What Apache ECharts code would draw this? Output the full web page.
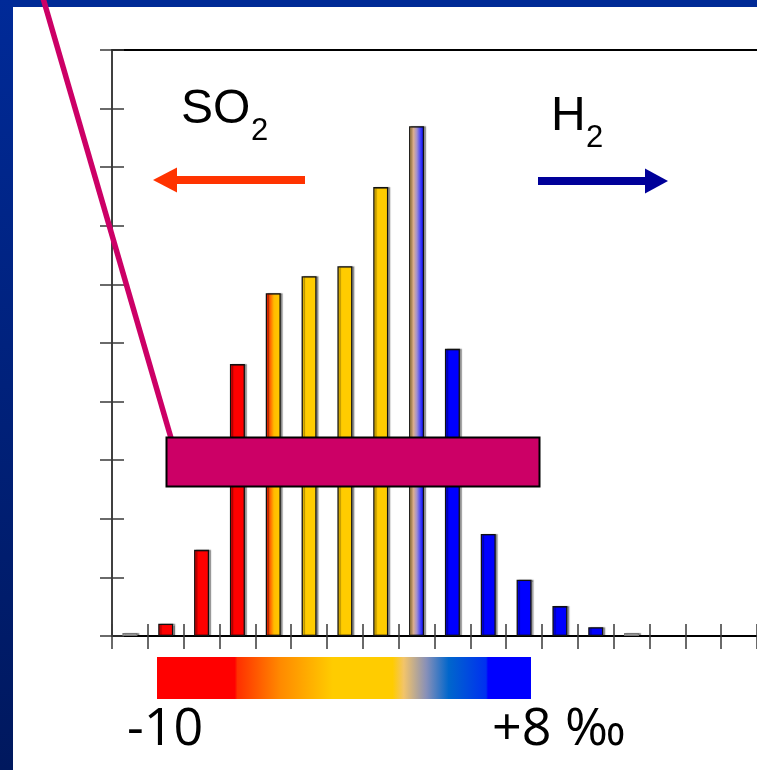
<!DOCTYPE html>
<html>
<head>
<meta charset="utf-8">
<script src="https://cdn.jsdelivr.net/npm/echarts@6/dist/echarts.min.js"></script>
<style>
  html, body { margin: 0; padding: 0; background: #fff; }
  #chart { width: 757px; height: 770px; }
</style>
</head>
<body>
<div id="chart"></div>
<script>
// Isotope histogram: 1 ‰ bins from -10 to +8 ‰
const bins = ['-10', '-9', '-8', '-7', '-6', '-5', '-4', '-3', '-2', '-1', '0', '+1', '+2', '+3', '+4', '+5', '+6', '+7'];
const counts = [0.05, 0.21, 1.47, 4.64, 5.85, 6.14, 6.31, 7.66, 8.70, 4.90, 1.74, 0.96, 0.51, 0.15, 0.05, null, null, null];
const yTicks = [0, 1, 2, 3, 4, 5, 6, 7, 8, 9, 10];
const scaleLabels = ['-10', '+8 ‰'];
const gasLabels = ['SO', 'H'];

// bar fills, one per bin
const RED = '#ff0000', YEL = '#ffcc00', BLU = '#0000ff', GRY = '#e4e4e4';
const redToYellow = {
  type: 'linear', x: 0, y: 0, x2: 1, y2: 0,
  colorStops: [
    { offset: 0, color: '#ff0000' },
    { offset: 0.25, color: '#ff5500' },
    { offset: 0.55, color: '#ffbb00' },
    { offset: 1, color: '#ffcc00' }
  ]
};
const tanToBlue = {
  type: 'linear', x: 0, y: 0, x2: 1, y2: 0,
  colorStops: [
    { offset: 0, color: '#f6c45e' },
    { offset: 0.3, color: '#dcae90' },
    { offset: 0.52, color: '#a090d0' },
    { offset: 0.75, color: '#4444fa' },
    { offset: 1, color: '#0000ff' }
  ]
};
const binFills = [GRY, RED, RED, RED, redToYellow, YEL, YEL, YEL, tanToBlue, BLU, BLU, BLU, BLU, BLU, GRY, GRY, GRY, GRY];

const chart = echarts.init(document.getElementById('chart'), null, { renderer: 'canvas' });

const barData = counts.map((v, i) => ({
  value: v,
  itemStyle: {
    color: binFills[i],
    borderColor: (binFills[i] === GRY) ? '#777' : '#111',
    borderWidth: 1.3,
    shadowColor: 'rgba(0,0,0,0.35)',
    shadowBlur: 1,
    shadowOffsetX: 2,
    shadowOffsetY: 0
  }
}));

const tickStyle = { color: '#3a3a3a', width: 1.5 };
const hiddenLabel = { show: false };

const option = {
  backgroundColor: '#ffffff',
  animation: false,
  grid: { left: 112, top: 50, right: 0, bottom: 134, containLabel: false },
  xAxis: [
    {
      type: 'category', data: bins, position: 'bottom', boundaryGap: true,
      axisLine: { show: true, lineStyle: { color: '#000', width: 2 } },
      axisTick: { show: true, inside: false, length: 13, lineStyle: tickStyle },
      axisLabel: hiddenLabel, splitLine: { show: false }
    },
    {
      type: 'category', data: bins, position: 'bottom', boundaryGap: true,
      axisLine: { show: false },
      axisTick: { show: true, inside: true, length: 12, lineStyle: tickStyle },
      axisLabel: hiddenLabel, splitLine: { show: false }
    },
    {
      type: 'category', data: bins, position: 'top', boundaryGap: true,
      axisLine: { show: true, lineStyle: { color: '#000', width: 2 } },
      axisTick: { show: false },
      axisLabel: hiddenLabel, splitLine: { show: false }
    }
  ],
  yAxis: [
    {
      type: 'value', min: yTicks[0], max: yTicks[yTicks.length - 1], interval: 1, position: 'left',
      axisLine: { show: true, lineStyle: { color: '#000', width: 1.5 } },
      axisTick: { show: true, inside: false, length: 12, lineStyle: tickStyle },
      axisLabel: hiddenLabel, splitLine: { show: false }
    },
    {
      type: 'value', min: yTicks[0], max: yTicks[yTicks.length - 1], interval: 1, position: 'left',
      axisLine: { show: false },
      axisTick: { show: true, inside: true, length: 12, lineStyle: tickStyle },
      axisLabel: hiddenLabel, splitLine: { show: false }
    }
  ],
  series: [
    {
      type: 'bar', xAxisIndex: 0, yAxisIndex: 0,
      barWidth: 15,
      data: barData,
      z: 3
    }
  ],
  graphic: [
    // slide frame
    { type: 'rect', shape: { x: 0, y: 0, width: 757, height: 7 }, style: { fill: '#002a96' }, z: 1 },
    {
      type: 'rect', shape: { x: 0, y: 0, width: 13, height: 770 },
      style: {
        fill: {
          type: 'linear', x: 0, y: 0, x2: 0, y2: 1,
          colorStops: [{ offset: 0, color: '#002a98' }, { offset: 1, color: '#00185e' }]
        }
      }, z: 1
    },
    // gas labels
    { type: 'text', style: { text: gasLabels[0], x: 181, y: 134, font: '48px "Liberation Sans", Arial, sans-serif', fill: '#000', textVerticalAlign: 'bottom', verticalAlign: 'bottom' }, z: 10 },
    { type: 'text', style: { text: '2', x: 251, y: 147, font: '31px "Liberation Sans", Arial, sans-serif', fill: '#000', textVerticalAlign: 'bottom', verticalAlign: 'bottom' }, z: 10 },
    { type: 'text', style: { text: gasLabels[1], x: 551, y: 141, font: '48px "Liberation Sans", Arial, sans-serif', fill: '#000', textVerticalAlign: 'bottom', verticalAlign: 'bottom' }, z: 10 },
    { type: 'text', style: { text: '2', x: 586, y: 154, font: '31px "Liberation Sans", Arial, sans-serif', fill: '#000', textVerticalAlign: 'bottom', verticalAlign: 'bottom' }, z: 10 },
    // arrows
    { type: 'rect', shape: { x: 174, y: 176, width: 131, height: 8 }, style: { fill: '#ff3300' }, z: 10 },
    { type: 'polygon', shape: { points: [[153, 180], [177, 167.5], [177, 192.5]] }, style: { fill: '#ff3300' }, z: 10 },
    { type: 'rect', shape: { x: 538, y: 177, width: 110, height: 8 }, style: { fill: '#000099' }, z: 10 },
    { type: 'polygon', shape: { points: [[668, 181], [645, 168.5], [645, 193.5]] }, style: { fill: '#000099' }, z: 10 },
    // selection band and pointer
    { type: 'line', shape: { x1: 43, y1: -2, x2: 171, y2: 438 }, style: { stroke: '#cc0066', lineWidth: 5.5 }, z: 20 },
    { type: 'rect', shape: { x: 166.5, y: 437.5, width: 373, height: 49 }, style: { fill: '#cc0066', stroke: '#000', lineWidth: 2 }, z: 21 },
    // colour scale
    {
      type: 'rect', shape: { x: 157, y: 657, width: 374, height: 42 },
      style: {
        fill: {
          type: 'linear', x: 0, y: 0, x2: 1, y2: 0,
          colorStops: [
            { offset: 0, color: '#ff0000' },
            { offset: 0.208, color: '#ff0000' },
            { offset: 0.215, color: '#ff3000' },
            { offset: 0.33, color: '#ff8a00' },
            { offset: 0.47, color: '#ffcc00' },
            { offset: 0.63, color: '#ffcc00' },
            { offset: 0.66, color: '#f2c46a' },
            { offset: 0.72, color: '#8890b8' },
            { offset: 0.78, color: '#0066cc' },
            { offset: 0.88, color: '#0030f0' },
            { offset: 0.885, color: '#0000ff' },
            { offset: 1, color: '#0000ff' }
          ]
        }
      }, z: 10
    },
    { type: 'text', style: { text: scaleLabels[0], x: 127, y: 756, font: '52px "Open Sans", "DejaVu Sans", sans-serif', fill: '#000', textVerticalAlign: 'bottom', verticalAlign: 'bottom' }, z: 10 },
    { type: 'text', style: { text: scaleLabels[1], x: 492, y: 756, font: '52px "Open Sans", "DejaVu Sans", sans-serif', fill: '#000', textVerticalAlign: 'bottom', verticalAlign: 'bottom' }, z: 10 }
  ]
};

chart.setOption(option);
</script>
</body>
</html>
